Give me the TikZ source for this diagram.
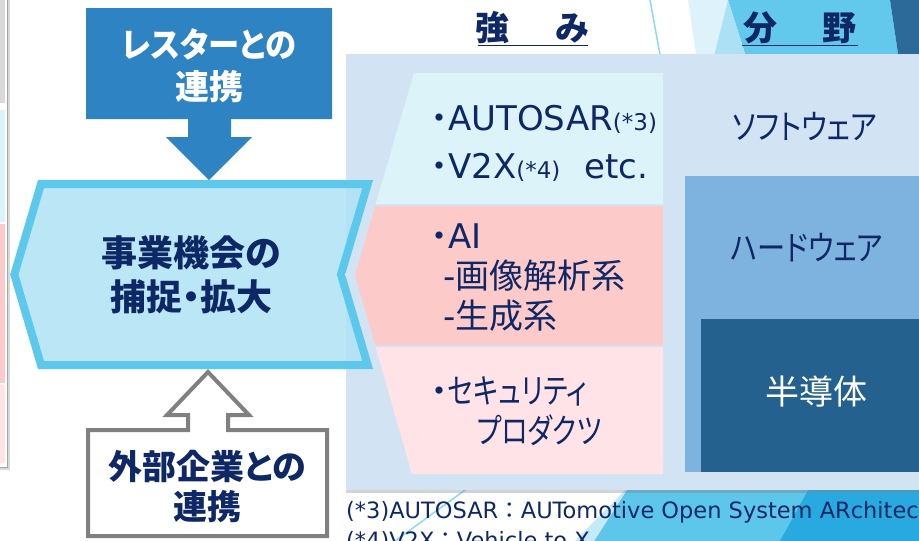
\documentclass[tikz,border=0pt]{standalone}
\usepackage{fontspec}
\usepackage{graphicx}
\setmainfont{DejaVu Sans}
\newfontfamily\jp[RawFeature=+palt]{Noto Sans CJK JP}
\newfontfamily\jpfull{Noto Sans CJK JP}
\usetikzlibrary{shadows}
\definecolor{navy}{RGB}{14,40,102}
\definecolor{arrowblue}{RGB}{46,131,194}
\definecolor{hexline}{RGB}{91,200,236}
\definecolor{hexfill}{RGB}{175,226,245}
\definecolor{panel}{RGB}{210,228,244}
\definecolor{softbg}{RGB}{221,243,250}
\definecolor{aibg}{RGB}{253,202,202}
\definecolor{secbg}{RGB}{255,227,230}
\definecolor{hardbg}{RGB}{126,178,223}
\definecolor{semibg}{RGB}{36,97,143}
\definecolor{sky}{RGB}{98,201,236}
\definecolor{palesky}{RGB}{221,242,250}
\definecolor{lightsky}{RGB}{171,224,245}
\definecolor{deepsky}{RGB}{40,170,224}
\definecolor{darkband}{RGB}{43,106,153}
\newcommand\fnref[1]{{\fontsize{23}{28}\selectfont#1}}
\newcommand\narrow[2]{\scalebox{#1}[1]{#2}}
\begin{document}
\begin{tikzpicture}[x=1pt, y=-1pt,
    base/.style={inner sep=0pt, text=navy},
    strong/.style={base, align=left, anchor=west},
    field/.style={base, font={\jp\fontsize{34}{40}\selectfont}},
    title/.style={base, align=center, font={\jp\bfseries\fontsize{34}{42}\selectfont\lineskiplimit=-60pt\relax}},
    head/.style={base, font={\jp\bfseries\fontsize{34}{40}\selectfont}},
    note/.style={base, anchor=base west, font={\fontsize{22.5}{29}\selectfont}}]
  \useasboundingbox (0,0) rectangle (919,541);
  \clip (0,0) rectangle (919,541);
  % background
  \draw[lightsky!60!sky, line width=1.5pt] (650,0) -- (661,60);
  \fill[palesky] (688,0) -- (728,0) -- (713,60) -- (697,60) -- cycle;
  \fill[sky] (728,0) -- (890,0) -- (899,60) -- (747,60) -- cycle;
  \fill[lightsky] (728,0) -- (747,60) -- (713,60) -- cycle;
  \fill[darkband] (890,0) -- (919,0) -- (919,60) -- (899,60) -- cycle;
  \draw[lightsky!60!sky, line width=1.5pt] (472,485) -- (395,541);
  \fill[sky!90!deepsky] (630,485) -- (919,485) -- (919,541) -- (594,541) -- cycle;
  \fill[lightsky!70!white] (630,485) -- (594,541) -- (575,541) -- cycle;
  \fill[deepsky] (811,485) -- (919,485) -- (919,541) -- (780,541) -- cycle;
  % left panel
  \fill[white, drop shadow={shadow xshift=3pt, shadow yshift=-3pt, opacity=0.3}] (-10,-10) rectangle (7,467);
  \fill[black!15] (-1,0) rectangle (5,103);
  \fill[softbg] (-1,110) rectangle (5,222);
  \fill[aibg] (-1,224) rectangle (5,383);
  \fill[secbg] (-1,385) rectangle (5,463);
  \draw[black!35, line width=1pt] (-10,467) -- (7,467) -- (7,-10);
  % panel
  \fill[panel, drop shadow={shadow xshift=0pt, shadow yshift=-3pt, opacity=0.35}] (346,54) rectangle (940,490);
  \fill[softbg] (414,73) -- (663,73) -- (663,204) -- (375.7,204) -- cycle;
  \fill[aibg] (375.2,206) -- (663,206) -- (663,345) -- (375,345) -- (355,275) -- cycle;
  \fill[secbg] (375.6,347) -- (663,347) -- (663,474) -- (412,474) -- cycle;
  \fill[hardbg] (685,176) rectangle (940,472);
  \fill[semibg] (701,319) rectangle (940,472);
  % arrows
  \fill[arrowblue] (86,8) -- (332,8) -- (332,119) -- (231,119) -- (231,137) -- (252,137) -- (209,180) -- (166,137) -- (188,137) -- (188,119) -- (86,119) -- cycle;
  \draw[hexline, fill=hexfill, fill opacity=0.85, line width=8pt]
    (41,184) -- (367.7,184) -- (341,274.5) -- (367.7,365) -- (41,365) -- (14.3,274.5) -- cycle;
  \draw[black!50, fill=white, line width=4pt] (88,430) -- (188,430) -- (188,415) -- (167,415) -- (208,372) -- (249,415) -- (228,415) -- (228,430) -- (327,430) -- (327,536) -- (88,536) -- cycle;
  % texts
  \node[title, text=white] (renkei) at (209,66) {\narrow{0.92}{レスターとの}\\連携};
  \node[title, font={\jp\bfseries\fontsize{36}{44}\selectfont\lineskiplimit=-60pt\relax}] (chance) at (191,275) {事業機会の\\捕捉・拡大};
  \node[title, font={\jp\bfseries\fontsize{34}{40}\selectfont\lineskiplimit=-60pt\relax}] (gaibu) at (207,487) {外部企業との\\連携};
  \node[head] (strength) at (532,28) {強\hspace{46pt}み};
  \node[head] (domain) at (800,28) {分\hspace{46pt}野};
  \draw[navy, line width=1.8pt] (478,45.5) -- (588,45.5);
  \draw[navy, line width=1.8pt] (742,45.5) -- (858,45.5);
  \node[strong, font={\fontsize{34}{48}\selectfont\lineskiplimit=-60pt\relax}] (autosar) at (431,143)
    {{\jp ・}AUTOSAR\fnref{(*3)}\\{\jp ・}V2X\fnref{(*4)}\hspace{24pt}etc.};
  \node[strong, font={\fontsize{34}{40}\selectfont\lineskiplimit=-60pt\relax}] (ai) at (431,277.5)
    {{\jp ・}AI\\\hspace*{12pt}-{\jp 画像解析系}\\\hspace*{12pt}-{\jp 生成系}};
  \node[strong, font={\jp\fontsize{34}{40}\selectfont\lineskiplimit=-60pt\relax}] (security) at (431,411)
    {・\narrow{0.79}{セキュリティ}\\\hspace*{46pt}\narrow{0.79}{プロダクツ}};
  \node[field] (soft) at (805,127) {\narrow{0.84}{ソフトウェア}};
  \node[field] (hard) at (807,248) {\narrow{0.83}{ハードウェア}};
  \node[field, text=white] (semi) at (816,392) {半導体};
  \node[note] (note3) at (346,518) {(*3)AUTOSAR{\jpfull ：}AUTomotive Open System ARchitecture};
  \node[note] (note4) at (346,548) {(*4)V2X{\jpfull ：}Vehicle to X};
\end{tikzpicture}
\end{document}
